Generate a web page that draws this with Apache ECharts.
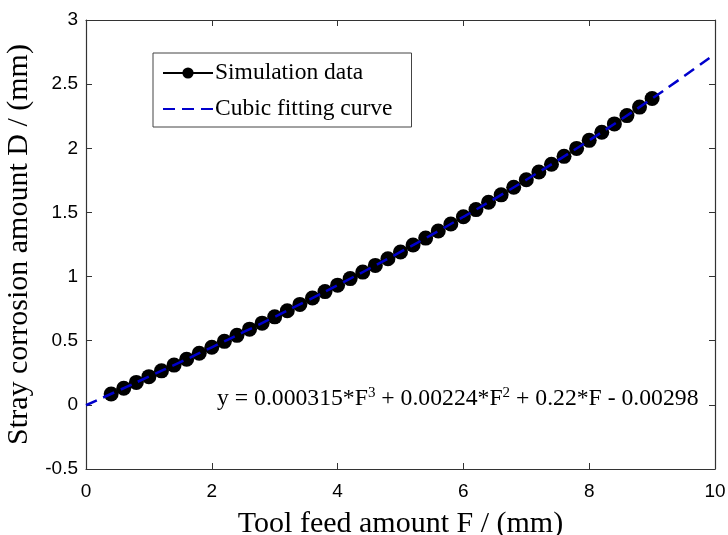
<!DOCTYPE html>
<html>
<head>
<meta charset="utf-8">
<script src="https://cdn.jsdelivr.net/npm/echarts@6/dist/echarts.min.js"></script>
<style>html,body{margin:0;padding:0;background:#fff}#c{width:728px;height:535px}</style>
</head>
<body>
<div id="c"></div>
<script>
var feedF = [0.4,0.6,0.8,1.0,1.2,1.4,1.6,1.8,2.0,2.2,2.4,2.6,2.8,3.0,3.2,3.4,3.6,3.8,4.0,4.2,4.4,4.6,4.8,5.0,5.2,5.4,5.6,5.8,6.0,6.2,6.4,6.6,6.8,7.0,7.2,7.4,7.6,7.8,8.0,8.2,8.4,8.6,8.8,9.0];
var simD = [0.085,0.130,0.175,0.220,0.265,0.310,0.356,0.402,0.449,0.495,0.542,0.590,0.637,0.686,0.734,0.783,0.833,0.883,0.933,0.984,1.035,1.087,1.139,1.192,1.246,1.300,1.355,1.410,1.466,1.522,1.579,1.637,1.696,1.755,1.815,1.875,1.937,1.999,2.062,2.125,2.190,2.255,2.321,2.388];
var fitF = [0,0.5,1,1.5,2,2.5,3,3.5,4,4.5,5,5.5,6,6.5,7,7.5,8,8.5,9,9.5,10];
var fitD = [-0.003,0.108,0.220,0.333,0.449,0.566,0.686,0.808,0.933,1.061,1.192,1.327,1.466,1.608,1.755,1.906,2.062,2.222,2.388,2.559,2.736];
var xTicks = [0,2,4,6,8,10];
var yTicks = [-0.5,0,0.5,1,1.5,2,2.5,3];
var equation = 'y = 0.000315*F{s|3} + 0.00224*F{s|2} + 0.22*F - 0.00298';

var chart = echarts.init(document.getElementById('c'));
function pairs(a, b){ return a.map(function(v,i){ return [v, b[i]]; }); }
var serif = '"Liberation Serif", "Times New Roman", serif';
var sans = '"Liberation Sans", Arial, sans-serif';
function axisCommon(o){
  return Object.assign({
    type: 'value',
    axisLine: {onZero: false, lineStyle: {color: '#333', width: 1.2}},
    axisTick: {inside: true, length: 6, lineStyle: {color: '#333'}},
    splitLine: {show: false}
  }, o);
}
chart.setOption({
  animation: false,
  grid: {left: 86, right: 13, top: 20, bottom: 66, containLabel: false, outerBoundsMode: 'none'},
  legend: {
    orient: 'vertical', left: 153, top: 53,
    padding: [8, 19, 6, 9], itemGap: 12,
    borderColor: '#444', borderWidth: 1, backgroundColor: '#fff',
    itemWidth: 50, itemHeight: 14,
    textStyle: {fontFamily: serif, fontSize: 23.5, color: '#000', padding: [0,0,0,-3]},
    data: [
      {name: 'Simulation data'},
      {name: 'Cubic fitting curve', itemStyle: {color: 'rgba(0,0,0,0)', borderWidth: 0}}
    ]
  },
  xAxis: [
    axisCommon({min: 0, max: 10, interval: 2, position: 'bottom',
      name: 'Tool feed amount F / (mm)', nameLocation: 'middle', nameGap: 40,
      nameTextStyle: {fontFamily: serif, fontSize: 30, color: '#000'},
      axisLabel: {fontFamily: sans, fontSize: 19, color: '#000', margin: 13,
        formatter: function(v){ return xTicks.indexOf(v) >= 0 ? String(v) : ''; }}}),
    axisCommon({min: 0, max: 10, interval: 2, position: 'top', axisLabel: {show: false}})
  ],
  yAxis: [
    axisCommon({min: -0.5, max: 3, interval: 0.5, position: 'left',
      name: 'Stray corrosion amount D / (mm)', nameLocation: 'middle', nameGap: 44,
      nameTextStyle: {fontFamily: serif, fontSize: 30, color: '#000'},
      axisLabel: {fontFamily: sans, fontSize: 19, color: '#000', margin: 8,
        formatter: function(v){ return yTicks.indexOf(v) >= 0 ? String(v) : ''; }}}),
    axisCommon({min: -0.5, max: 3, interval: 0.5, position: 'right', axisLabel: {show: false}})
  ],
  series: [
    {
      name: 'Simulation data', type: 'line', data: pairs(feedF, simD),
      symbol: 'circle', symbolSize: 15, showSymbol: true,
      itemStyle: {color: '#000'},
      lineStyle: {color: '#000', width: 1},
      z: 2
    },
    {
      name: 'Cubic fitting curve', type: 'line', data: pairs(fitF, fitD),
      smooth: true, symbol: 'none',
      itemStyle: {color: '#0000cc'},
      lineStyle: {color: '#0000cc', width: 2.5, type: [12, 7]},
      z: 3
    }
  ],
  graphic: [{
    type: 'text', left: 217, top: 386, z: 10,
    style: {
      text: equation, fill: '#000',
      font: '23.7px ' + serif,
      rich: {s: {fontSize: 15, fontFamily: serif, verticalAlign: 'top', padding: [0,0,10,0], fill: '#000'}}
    }
  }]
});
</script>
</body>
</html>
